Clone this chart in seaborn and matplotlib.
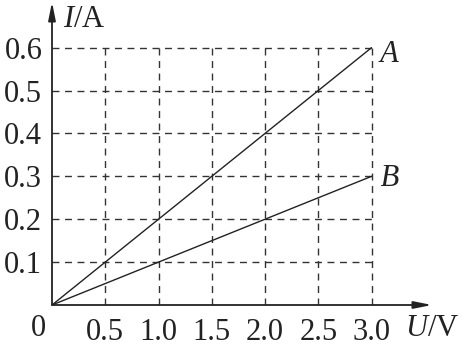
import matplotlib
matplotlib.use("Agg")
import matplotlib.pyplot as plt
import seaborn as sns
import pandas as pd

sns.set_theme(style="white")
plt.rcParams['font.family'] = ['Liberation Serif', 'DejaVu Serif']
plt.rcParams['mathtext.fontset'] = 'custom'
plt.rcParams['mathtext.it'] = 'Liberation Serif:italic'
plt.rcParams['mathtext.rm'] = 'Liberation Serif'

# data
u_ticks = [0.5, 1.0, 1.5, 2.0, 2.5, 3.0]
i_ticks = [0.1, 0.2, 0.3, 0.4, 0.5, 0.6]
u_values = [0.0, 3.0]
i_A = [0.0, 0.6]
i_B = [0.0, 0.3]
line_names = ["A", "B"]

df = pd.DataFrame({
    "U": u_values + u_values,
    "I": i_A + i_B,
    "line": [line_names[0]] * 2 + [line_names[1]] * 2,
})

W, H = 463, 345
fig = plt.figure(figsize=(W / 100, H / 100), dpi=100)
x0, x3 = 52, 371.5   # pixel of U=0 and U=3.0
y0, y6 = 305, 47.7   # pixel of I=0 and I=0.6
x_end, y_end = 432, 2
xmax = 3.0 * (x_end - x0) / (x3 - x0)
ymax = 0.6 * (y0 - y_end) / (y0 - y6)
ax = fig.add_axes([x0 / W, (H - y0) / H, (x_end - x0) / W, (y0 - y_end) / H])
ax.set_xlim(0, xmax)
ax.set_ylim(0, ymax)
for s in ax.spines.values():
    s.set_visible(False)

col = "#222222"
# grid
ax.vlines(u_ticks, 0, max(i_ticks), colors="#333333", linestyles=(0, (5, 4)), linewidth=1.0)
ax.hlines(i_ticks, 0, max(u_ticks), colors="#333333", linestyles=(0, (5, 4)), linewidth=1.0)

sns.lineplot(data=df, x="U", y="I", units="line", estimator=None, color=col,
             linewidth=1.0, ax=ax, legend=False)

# axes arrows
ax.annotate("", xy=(xmax, 0), xytext=(0, 0), annotation_clip=False,
            arrowprops=dict(arrowstyle="-|>,head_length=0.9,head_width=0.18",
                            color=col, lw=1.3, shrinkA=0, shrinkB=0))
ax.annotate("", xy=(0, ymax), xytext=(0, 0), annotation_clip=False,
            arrowprops=dict(arrowstyle="-|>,head_length=0.9,head_width=0.18",
                            color=col, lw=1.3, shrinkA=0, shrinkB=0))

fs = 22
ax.set_xticks(u_ticks)
ax.set_xticklabels([f"{v:.1f}" for v in u_ticks])
ax.set_yticks(i_ticks)
ax.set_yticklabels([f"{v:.1f}" for v in i_ticks])
ax.tick_params(axis="both", length=0, labelsize=fs, colors=col)
ax.tick_params(axis="x", pad=9)
ax.tick_params(axis="y", pad=7)
ax.set_xlabel("")
ax.set_ylabel("")

ax.text(-0.13, -0.055, "0", ha="center", va="center", fontsize=fs, color=col)
ax.text(3.01, i_A[-1] - 0.015, " " + line_names[0], fontsize=fs, style="italic",
        ha="left", va="center", color=col)
ax.text(3.01, i_B[-1] - 0.005, " " + line_names[1], fontsize=fs, style="italic",
        ha="left", va="center", color=col)
ax.text(0.1, ymax - 0.04, "$I$/A", fontsize=fs, ha="left", va="center", color=col)
ax.text(xmax - 0.25, -0.055, "$U$/V", fontsize=fs, ha="left", va="center", color=col)

fig.savefig("out.png", dpi=100, facecolor="white")
